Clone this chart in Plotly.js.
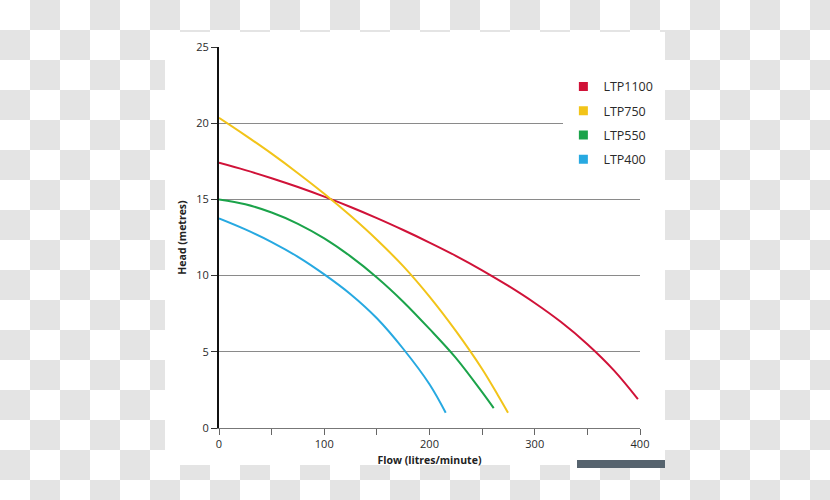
<!DOCTYPE html>
<html>
<head>
<meta charset="utf-8">
<script src="https://cdn.plot.ly/plotly-3.0.1.min.js"></script>
<style>
  html, body { margin: 0; padding: 0; width: 830px; height: 500px; overflow: hidden; }
  body { background: repeating-conic-gradient(#e4e4e4 0 25%, #ffffff 0 50%) 0 0 / 60px 60px; position: relative; }
  #panel { position: absolute; left: 165px; top: 32px; width: 500px; height: 433px; background: #ffffff; }
  #bar { position: absolute; left: 577px; top: 460px; width: 88px; height: 8px; background: #56636e; }
  #chart { position: absolute; left: 0; top: 0; width: 830px; height: 500px; }
</style>
</head>
<body>
<div id="panel"></div>
<div id="bar"></div>
<div id="chart"></div>
<script>
const seriesNames = ["LTP1100", "LTP750", "LTP550", "LTP400"];
const seriesColors = ["#d01238", "#f2c419", "#1ba34a", "#27a9e1"];

const flowLTP1100 = [0, 25, 50, 75, 100, 125, 150, 175, 200, 225, 250, 275, 300, 325, 350, 375, 398];
const headLTP1100 = [17.4, 16.92, 16.39, 15.81, 15.18, 14.5, 13.77, 12.99, 12.17, 11.3, 10.35, 9.32, 8.2, 6.95, 5.5, 3.8, 1.9];

const flowLTP750 = [0, 25, 50, 75, 100, 125, 150, 175, 200, 225, 250, 265, 274.6];
const headLTP750 = [20.35, 19.2, 18.0, 16.72, 15.37, 13.92, 12.35, 10.62, 8.62, 6.37, 3.87, 2.15, 1.0];

const flowLTP550 = [0, 25, 50, 75, 100, 125, 150, 175, 200, 225, 250, 261];
const headLTP550 = [15.0, 14.68, 14.14, 13.4, 12.44, 11.26, 9.88, 8.29, 6.5, 4.6, 2.35, 1.3];

const flowLTP400 = [0, 25, 50, 75, 100, 125, 150, 175, 200, 215.4];
const headLTP400 = [13.75, 13.03, 12.2, 11.23, 10.08, 8.78, 7.2, 5.2, 2.87, 1.0];

const xTickVals = [0, 50, 100, 150, 200, 250, 300, 350, 400];
const xTickText = ["0", "", "100", "", "200", "", "300", "", "400"];
const yTickVals = [0, 5, 10, 15, 20, 25];

const flows = [flowLTP1100, flowLTP750, flowLTP550, flowLTP400];
const heads = [headLTP1100, headLTP750, headLTP550, headLTP400];

const traces = [];
for (let i = 0; i < seriesNames.length; i++) {
  traces.push({
    x: flows[i], y: heads[i], type: "scatter", mode: "lines",
    line: { color: seriesColors[i], width: 2, shape: "spline", smoothing: 1 },
    showlegend: false, hoverinfo: "skip"
  });
}
for (let i = 0; i < seriesNames.length; i++) {
  traces.push({
    x: [null], y: [null], type: "scatter", mode: "markers", name: seriesNames[i],
    marker: { color: seriesColors[i], symbol: "square", size: 9 },
    legendgroup: "g" + i, showlegend: true
  });
}

const layout = {
  width: 830, height: 500,
  margin: { l: 219, r: 190, t: 47, b: 72 },
  paper_bgcolor: "rgba(0,0,0,0)",
  plot_bgcolor: "rgba(0,0,0,0)",
  font: { family: "Open Sans, sans-serif", color: "#333333", size: 11 },
  xaxis: {
    range: [0, 400], tickvals: xTickVals, ticktext: xTickText,
    ticks: "outside", ticklen: 6, tickcolor: "#666666", tickwidth: 1,
    showline: true, linecolor: "#777777", linewidth: 1,
    showgrid: false, zeroline: false,
    tickfont: { size: 11, color: "#2a2a2a" },
    title: { text: "<b>Flow (litres/minute)</b>", font: { size: 10.5, color: "#222222" }, standoff: 6 }
  },
  yaxis: {
    range: [0, 25], tickvals: yTickVals,
    ticks: "outside", ticklen: 6, tickcolor: "#333333", tickwidth: 1,
    showline: true, linecolor: "#111111", linewidth: 2,
    showgrid: true, gridcolor: "#8a8a8a", gridwidth: 1, zeroline: false,
    tickfont: { size: 11, color: "#2a2a2a" },
    title: { text: "<b>Head (metres)</b>", font: { size: 10.5, color: "#222222" }, standoff: 8 }
  },
  legend: {
    x: 0.818, xanchor: "left", y: 0.935, yanchor: "top",
    bgcolor: "#ffffff", borderwidth: 0,
    font: { size: 12.5, color: "#2a2a2a" },
    traceorder: "grouped", tracegroupgap: 5
  },
  showlegend: true
};

Plotly.newPlot("chart", traces, layout, { displayModeBar: false, staticPlot: true });
</script>
</body>
</html>
